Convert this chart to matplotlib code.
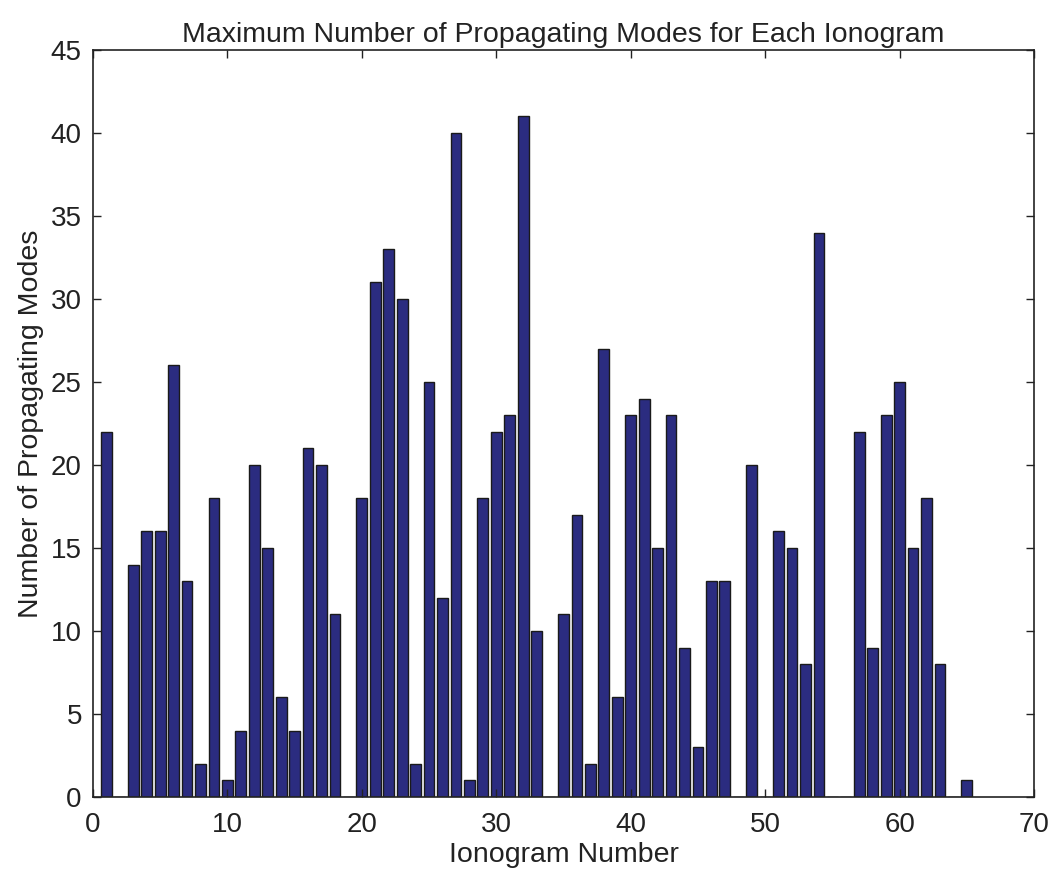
import matplotlib
matplotlib.use("Agg")
import matplotlib.pyplot as plt
import numpy as np

ionogram = list(range(1, 66))
modes = [22, 0, 14, 16, 16, 26, 13, 2, 18, 1,
         4, 20, 15, 6, 4, 21, 20, 11, 0, 18,
         31, 33, 30, 2, 25, 12, 40, 1, 18, 22,
         23, 41, 10, 0, 11, 17, 2, 27, 6, 23,
         24, 15, 23, 9, 3, 13, 13, 0, 20, 0,
         16, 15, 8, 34, 0, 0, 22, 9, 23, 25,
         15, 18, 8, 0, 1]
xticks = [0, 10, 20, 30, 40, 50, 60, 70]
yticks = [0, 5, 10, 15, 20, 25, 30, 35, 40, 45]

plt.rcParams['font.family'] = ['Liberation Sans', 'DejaVu Sans']
fig = plt.figure(figsize=(10.53, 8.75), dpi=100)
ax = fig.add_axes([0.0883, 0.0891, 0.8937, 0.8538])
ax.bar(ionogram, modes, width=0.8, color='#2B2C80', edgecolor='#1a1a1a', linewidth=1.0)
ax.set_xlim(0, 70)
ax.set_ylim(0, 45)
ax.set_xticks(xticks)
ax.set_yticks(yticks)
ax.tick_params(direction='in', top=True, right=True, length=6, width=1, labelsize=20, colors='#222222')
ax.tick_params(axis='x', pad=11)
ax.tick_params(axis='y', pad=8)
for s in ax.spines.values():
    s.set_linewidth(1.2)
    s.set_color('#222222')
ax.set_xlabel('Ionogram Number', fontsize=20.5, color='#222222', labelpad=3)
ax.set_ylabel('Number of Propagating Modes', fontsize=20.5, color='#222222', labelpad=5)
ax.set_title('Maximum Number of Propagating Modes for Each Ionogram', fontsize=20.5, color='#222222', pad=6)
fig.savefig('out.png', dpi=100)
